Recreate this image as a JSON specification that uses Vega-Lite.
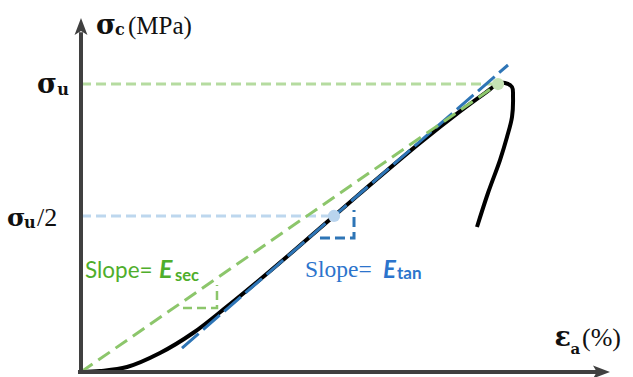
{
  "$schema": "https://vega.github.io/schema/vega-lite/v6.json",
  "width": 633,
  "height": 377,
  "autosize": {"type": "none"},
  "padding": 0,
  "background": "white",
  "config": {"view": {"stroke": null}},
  "encoding": {
    "x": {"field": "strain", "type": "quantitative", "axis": null,
          "scale": {"domain": [-0.19424, 1.32374], "nice": false, "zero": false}},
    "y": {"field": "stress", "type": "quantitative", "axis": null,
          "scale": {"domain": [-1.736, 129.17], "nice": false, "zero": false}}
  },
  "layer": [
    {
      "data": {"values": [{"strain": 0, "stress": 100, "strain2": 1.0}]},
      "mark": {"type": "rule", "color": "#b5dba0", "strokeWidth": 3, "strokeDash": [10, 5]},
      "encoding": {"x2": {"field": "strain2"}}
    },
    {
      "data": {"values": [{"strain": 0, "stress": 54.17, "strain2": 0.6067}]},
      "mark": {"type": "rule", "color": "#bdd7ee", "strokeWidth": 3, "strokeDash": [10, 5]},
      "encoding": {"x2": {"field": "strain2"}}
    },
    {
      "data": {"values": [
        {"i": 0, "strain": 0, "stress": 0},
        {"i": 1, "strain": 0.0456, "stress": 0.35},
        {"i": 2, "strain": 0.1103, "stress": 1.74},
        {"i": 3, "strain": 0.1894, "stress": 6.6},
        {"i": 4, "strain": 0.2686, "stress": 13.54},
        {"i": 5, "strain": 0.3501, "stress": 22.72},
        {"i": 6, "strain": 0.4293, "stress": 32.12},
        {"i": 7, "strain": 0.5084, "stress": 41.84},
        {"i": 8, "strain": 0.6067, "stress": 54.17},
        {"i": 9, "strain": 0.6691, "stress": 61.98},
        {"i": 10, "strain": 0.8129, "stress": 79.55},
        {"i": 11, "strain": 0.9089, "stress": 90.51},
        {"i": 12, "strain": 0.9688, "stress": 96.87},
        {"i": 13, "strain": 1.0, "stress": 100},
        {"i": 14, "strain": 1.0168, "stress": 100.35},
        {"i": 15, "strain": 1.0336, "stress": 98.96},
        {"i": 16, "strain": 1.036, "stress": 95.49},
        {"i": 17, "strain": 1.0336, "stress": 88.54},
        {"i": 18, "strain": 1.0216, "stress": 81.6},
        {"i": 19, "strain": 1.0048, "stress": 73.6},
        {"i": 20, "strain": 0.976, "stress": 62.15},
        {"i": 21, "strain": 0.9496, "stress": 50.35}
      ]},
      "mark": {"type": "line", "color": "black", "strokeWidth": 4, "interpolate": "catmull-rom"},
      "encoding": {"order": {"field": "i"}}
    },
    {
      "data": {"values": [
        {"i": 0, "strain": 0.2422, "stress": 8.33},
        {"i": 1, "strain": 1.024, "stress": 106.6}
      ]},
      "mark": {"type": "line", "color": "#2e75b6", "strokeWidth": 3, "strokeDash": [22, 6]},
      "encoding": {"order": {"field": "i"}}
    },
    {
      "data": {"values": [
        {"i": 0, "strain": 0, "stress": 0},
        {"i": 1, "strain": 1.0, "stress": 100}
      ]},
      "mark": {"type": "line", "color": "#8cc66b", "strokeWidth": 3, "strokeDash": [14, 7]},
      "encoding": {"order": {"field": "i"}}
    },
    {
      "data": {"values": [
        {"i": 0, "strain": 0.2446, "stress": 22.22},
        {"i": 1, "strain": 0.3261, "stress": 22.22},
        {"i": 2, "strain": 0.3261, "stress": 30.2}
      ]},
      "mark": {"type": "line", "color": "#8cc66b", "strokeWidth": 2.5, "strokeDash": [9, 5]},
      "encoding": {"order": {"field": "i"}}
    },
    {
      "data": {"values": [
        {"i": 0, "strain": 0.5731, "stress": 46.53},
        {"i": 1, "strain": 0.6547, "stress": 46.53},
        {"i": 2, "strain": 0.6547, "stress": 56.25}
      ]},
      "mark": {"type": "line", "color": "#2e75b6", "strokeWidth": 3, "strokeDash": [10, 5]},
      "encoding": {"order": {"field": "i"}}
    },
    {
      "data": {"values": [
        {"strain": 1.0, "stress": 100, "kind": "peak"},
        {"strain": 0.6067, "stress": 54.17, "kind": "tangent"}
      ]},
      "mark": {"type": "point", "filled": true, "size": 150, "opacity": 1},
      "encoding": {
        "color": {"field": "kind", "type": "nominal", "legend": null,
                  "scale": {"domain": ["peak", "tangent"], "range": ["#c5e2b4", "#b9d4ee"]}}
      }
    },
    {
      "data": {"values": [{"strain": 0, "stress": -0.7, "stress2": 118}]},
      "mark": {"type": "rule", "color": "#404040", "strokeWidth": 4},
      "encoding": {"y2": {"field": "stress2"}}
    },
    {
      "data": {"values": [{"strain": -0.0072, "stress": 0, "strain2": 1.24}]},
      "mark": {"type": "rule", "color": "#404040", "strokeWidth": 4},
      "encoding": {"x2": {"field": "strain2"}}
    },
    {
      "data": {"values": [
        {"strain": 0, "stress": 120, "dir": 0},
        {"strain": 1.2482, "stress": 0, "dir": 90}
      ]},
      "mark": {"type": "point", "filled": true, "opacity": 1, "color": "#404040", "size": 289,
               "shape": "M0,-1L0.76,1L0,0.55L-0.76,1Z"},
      "encoding": {"angle": {"field": "dir", "type": "quantitative", "scale": null}}
    },
    {
      "data": {"values": [{"strain": 0, "stress": 120, "label": "σ"}]},
      "mark": {"type": "text", "align": "left", "baseline": "alphabetic", "dx": 15, "dy": 8,
               "font": "DejaVu Serif", "fontWeight": "bold", "fontSize": 27, "color": "#111"},
      "encoding": {"text": {"field": "label"}}
    },
    {
      "data": {"values": [{"strain": 0, "stress": 120, "label": "c"}]},
      "mark": {"type": "text", "align": "left", "baseline": "alphabetic", "dx": 34, "dy": 9,
               "font": "DejaVu Serif", "fontWeight": "bold", "fontSize": 16, "color": "#111"},
      "encoding": {"text": {"field": "label"}}
    },
    {
      "data": {"values": [{"strain": 0, "stress": 120, "label": "(MPa)"}]},
      "mark": {"type": "text", "align": "left", "baseline": "alphabetic", "dx": 47, "dy": 8,
               "font": "Liberation Serif", "fontSize": 25, "color": "#111"},
      "encoding": {"text": {"field": "label"}}
    },
    {
      "data": {"values": [{"strain": 0, "stress": 100, "label": "σ"}]},
      "mark": {"type": "text", "align": "right", "baseline": "alphabetic", "dx": -24, "dy": 9,
               "font": "DejaVu Serif", "fontWeight": "bold", "fontSize": 27, "color": "#111"},
      "encoding": {"text": {"field": "label"}}
    },
    {
      "data": {"values": [{"strain": 0, "stress": 100, "label": "u"}]},
      "mark": {"type": "text", "align": "right", "baseline": "alphabetic", "dx": -12, "dy": 11,
               "font": "DejaVu Serif", "fontWeight": "bold", "fontSize": 16, "color": "#111"},
      "encoding": {"text": {"field": "label"}}
    },
    {
      "data": {"values": [{"strain": 0, "stress": 54.17, "label": "σ"}]},
      "mark": {"type": "text", "align": "left", "baseline": "alphabetic", "dx": -74, "dy": 10,
               "font": "DejaVu Serif", "fontWeight": "bold", "fontSize": 25, "color": "#111"},
      "encoding": {"text": {"field": "label"}}
    },
    {
      "data": {"values": [{"strain": 0, "stress": 54.17, "label": "u"}]},
      "mark": {"type": "text", "align": "left", "baseline": "alphabetic", "dx": -57, "dy": 12,
               "font": "DejaVu Serif", "fontWeight": "bold", "fontSize": 16, "color": "#111"},
      "encoding": {"text": {"field": "label"}}
    },
    {
      "data": {"values": [{"strain": 0, "stress": 54.17, "label": "/2"}]},
      "mark": {"type": "text", "align": "left", "baseline": "alphabetic", "dx": -44, "dy": 10,
               "font": "Liberation Serif", "fontSize": 26, "color": "#111"},
      "encoding": {"text": {"field": "label"}}
    },
    {
      "data": {"values": [{"strain": 1.2482, "stress": 0, "label": "ε"}]},
      "mark": {"type": "text", "align": "left", "baseline": "alphabetic", "dx": -47, "dy": -26,
               "font": "DejaVu Serif", "fontWeight": "bold", "fontSize": 27, "color": "#111"},
      "encoding": {"text": {"field": "label"}}
    },
    {
      "data": {"values": [{"strain": 1.2482, "stress": 0, "label": "a"}]},
      "mark": {"type": "text", "align": "left", "baseline": "alphabetic", "dx": -31, "dy": -18,
               "font": "DejaVu Serif", "fontWeight": "bold", "fontSize": 15, "color": "#111"},
      "encoding": {"text": {"field": "label"}}
    },
    {
      "data": {"values": [{"strain": 1.2482, "stress": 0, "label": "(%)"}]},
      "mark": {"type": "text", "align": "left", "baseline": "alphabetic", "dx": -19.5, "dy": -26,
               "font": "Liberation Serif", "fontSize": 26, "color": "#111"},
      "encoding": {"text": {"field": "label"}}
    },
    {
      "data": {"values": [{"strain": 0.3261, "stress": 22.22, "label": "Slope="}]},
      "mark": {"type": "text", "align": "left", "baseline": "alphabetic", "dx": -132, "dy": -30,
               "font": "Lato", "fontSize": 22.5, "color": "#4fae2b"},
      "encoding": {"text": {"field": "label"}}
    },
    {
      "data": {"values": [{"strain": 0.3261, "stress": 22.22, "label": "E"}]},
      "mark": {"type": "text", "align": "left", "baseline": "alphabetic", "dx": -58, "dy": -30,
               "font": "Lato", "fontWeight": "bold", "fontStyle": "italic", "fontSize": 25, "color": "#4fae2b"},
      "encoding": {"text": {"field": "label"}}
    },
    {
      "data": {"values": [{"strain": 0.3261, "stress": 22.22, "label": "sec"}]},
      "mark": {"type": "text", "align": "left", "baseline": "alphabetic", "dx": -42, "dy": -27,
               "font": "Lato", "fontWeight": "bold", "fontSize": 16.5, "color": "#4fae2b"},
      "encoding": {"text": {"field": "label"}}
    },
    {
      "data": {"values": [{"strain": 0.6547, "stress": 46.53, "label": "Slope="}]},
      "mark": {"type": "text", "align": "left", "baseline": "alphabetic", "dx": -49, "dy": 39,
               "font": "Liberation Serif", "fontSize": 23.5, "color": "#2c74cc"},
      "encoding": {"text": {"field": "label"}}
    },
    {
      "data": {"values": [{"strain": 0.6547, "stress": 46.53, "label": "E"}]},
      "mark": {"type": "text", "align": "left", "baseline": "alphabetic", "dx": 29, "dy": 40,
               "font": "Lato", "fontWeight": "bold", "fontStyle": "italic", "fontSize": 24, "color": "#2c74cc"},
      "encoding": {"text": {"field": "label"}}
    },
    {
      "data": {"values": [{"strain": 0.6547, "stress": 46.53, "label": "tan"}]},
      "mark": {"type": "text", "align": "left", "baseline": "alphabetic", "dx": 43, "dy": 41,
               "font": "Lato", "fontWeight": "bold", "fontSize": 17, "color": "#2c74cc"},
      "encoding": {"text": {"field": "label"}}
    }
  ]
}
